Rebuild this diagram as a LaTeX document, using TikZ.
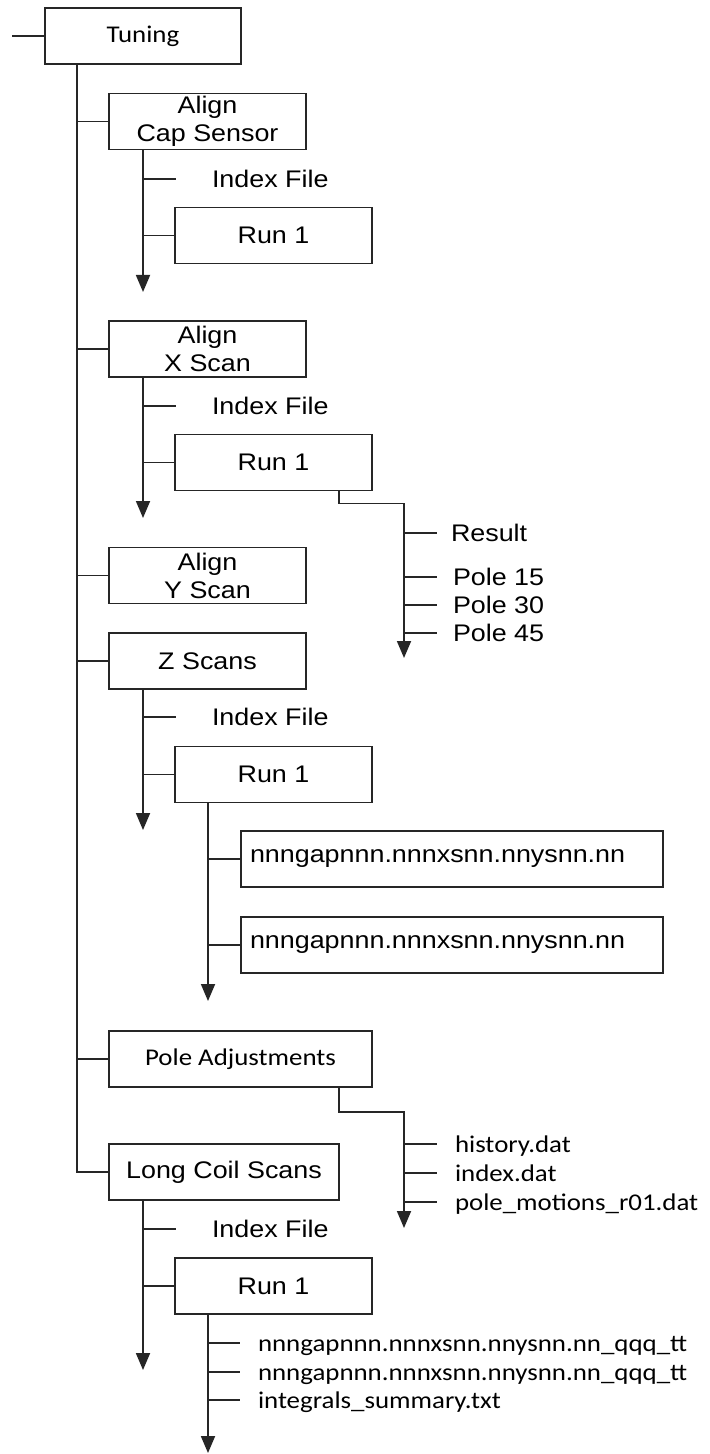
\documentclass[tikz,border=0pt]{standalone}
\usepackage{fontspec}
\setmainfont{Liberation Sans}
\newfontfamily\arialfont[FakeStretch=1.12]{Liberation Sans}
\newfontfamily\calibrifont[FakeStretch=1.12]{Carlito}
\usetikzlibrary{arrows.meta,positioning}

\begin{document}
\begin{tikzpicture}[x=0.5pt,y=-0.5pt,>={Triangle[width=7pt,length=8.5pt]},
  line width=0.9pt,draw=black!85,
  dir node/.style={draw,rectangle,inner sep=0pt,outer sep=0pt,
    minimum width=98.5pt,minimum height=28pt,align=center,
    font=\arialfont\fontsize{12pt}{14pt}\selectfont},
  file node/.style={dir node,anchor=west,minimum width=211pt,
    text width=202pt,inner xsep=4.5pt,align=left},
  leaf/.style={anchor=west,inner xsep=8pt,inner ysep=0pt,outer sep=0pt,
    text height=8.6pt,text depth=0pt,font=\arialfont\fontsize{12pt}{14pt}\selectfont},
  index leaf/.style={leaf,inner xsep=18pt},
  cal/.style={font=\calibrifont\fontsize{12pt}{14pt}\selectfont}]

  \useasboundingbox (0,0) rectangle (710,1454);

  % directories
  \node[dir node,cal,minimum width=98pt] (tuning) at (143,36) {Tuning};
  \node[dir node] (capsensor) at (207.5,121.5) {Align\\Cap Sensor};
  \node[dir node] (run1a) at (273.5,235.5) {Run 1};
  \node[dir node] (xscan) at (207.5,349) {Align\\X Scan};
  \node[dir node] (run1b) at (273.5,462.5) {Run 1};
  \node[dir node] (yscan) at (207.5,575.5) {Align\\Y Scan};
  \node[dir node] (zscans) at (207.5,661) {Z Scans};
  \node[dir node] (run1c) at (273.5,774.5) {Run 1};
  \node[file node] (gapa) at (241,859) {nnngapnnn.nnnxsnn.nnysnn.nn};
  \node[file node] (gapb) at (241,945) {nnngapnnn.nnnxsnn.nnysnn.nn};
  \node[dir node,cal,minimum width=131.5pt] (poleadj) at (240.5,1059) {Pole Adjustments};
  \node[dir node,minimum width=115pt] (longcoil) at (224,1172) {Long Coil Scans};
  \node[dir node] (run1d) at (273.5,1286) {Run 1};

  % plain files
  \node[index leaf] (idxa) at (176,179) {Index File};
  \node[index leaf] (idxb) at (176,406) {Index File};
  \node[index leaf] (idxc) at (176,717) {Index File};
  \node[index leaf] (idxd) at (176,1229) {Index File};

  \node[leaf,inner xsep=7pt] (result) at (437,533) {Result};
  \node[leaf] (pole15) at (437,577) {Pole 15};
  \node[leaf] (pole30) at (437,605) {Pole 30};
  \node[leaf] (pole45) at (437,633) {Pole 45};

  \node[leaf,cal,inner xsep=9pt] (history) at (437,1144) {history.dat};
  \node[leaf,cal,inner xsep=9pt] (indexdat) at (437,1173) {index.dat};
  \node[leaf,cal,inner xsep=9pt] (polemot) at (437,1202) {pole\_motions\_r01.dat};

  \node[leaf,cal,inner xsep=9pt] (qqqa) at (240,1343) {nnngapnnn.nnnxsnn.nnysnn.nn\_qqq\_tt};
  \node[leaf,cal,inner xsep=9pt] (qqqb) at (240,1372) {nnngapnnn.nnnxsnn.nnysnn.nn\_qqq\_tt};
  \node[leaf,cal,inner xsep=9pt] (integrals) at (240,1400) {integrals\_summary.txt};

  % line ends
  \coordinate (start) at (12,36);
  \coordinate (trunk) at (77,0);
  \coordinate (capend) at (143,292);
  \coordinate (xend) at (143,518);
  \coordinate (zend) at (143,830);
  \coordinate (lend) at (143,1370);
  \coordinate (resend) at (404,658);
  \coordinate (zfend) at (208,1001);
  \coordinate (adjend) at (404,1228);
  \coordinate (lfend) at (208,1453);

  \draw (start) -- (tuning.west);
  \draw (tuning.south -| trunk) |- (longcoil.west);

  \path[draw]
    (trunk |- capsensor.west) edge (capsensor.west)
    (trunk |- xscan.west) edge (xscan.west)
    (trunk |- yscan.west) edge (yscan.west)
    (trunk |- zscans.west) edge (zscans.west)
    (trunk |- poleadj.west) edge (poleadj.west);

  \draw[->] (capsensor.south -| capend) -- (capend);
  \draw[->] (xscan.south -| xend) -- (xend);
  \draw[->] (zscans.south -| zend) -- (zend);
  \draw[->] (longcoil.south -| lend) -- (lend);
  \draw[->] (run1c.south -| zfend) -- (zfend);
  \draw[->] (run1d.south -| lfend) -- (lfend);
  \draw[->] ([xshift=-16.5pt]run1b.south east) -- ++(0,13) -| (resend);
  \draw[->] ([xshift=-16.5pt]poleadj.south east) -- ++(0,25) -| (adjend);

  \path[draw]
    (capend |- idxa.west) edge (idxa.west)
    (capend |- run1a.west) edge (run1a.west)
    (xend |- idxb.west) edge (idxb.west)
    (xend |- run1b.west) edge (run1b.west)
    (zend |- idxc.west) edge (idxc.west)
    (zend |- run1c.west) edge (run1c.west)
    (lend |- idxd.west) edge (idxd.west)
    (lend |- run1d.west) edge (run1d.west)

    (resend |- result.west) edge (result.west)
    (resend |- pole15.west) edge (pole15.west)
    (resend |- pole30.west) edge (pole30.west)
    (resend |- pole45.west) edge (pole45.west)

    (zfend |- gapa.west) edge (gapa.west)
    (zfend |- gapb.west) edge (gapb.west)

    (adjend |- history.west) edge (history.west)
    (adjend |- indexdat.west) edge (indexdat.west)
    (adjend |- polemot.west) edge (polemot.west)

    (lfend |- qqqa.west) edge (qqqa.west)
    (lfend |- qqqb.west) edge (qqqb.west)
    (lfend |- integrals.west) edge (integrals.west);

\end{tikzpicture}
\end{document}
